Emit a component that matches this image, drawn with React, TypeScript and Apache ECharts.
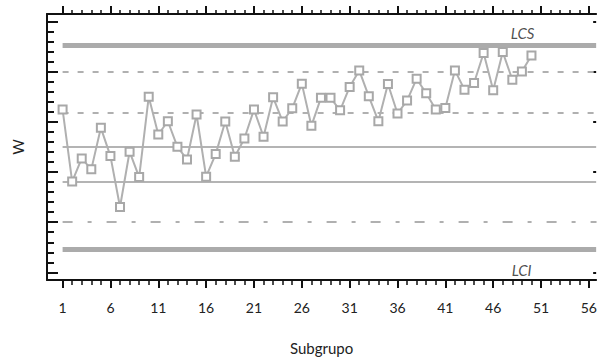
import React, { useEffect, useRef } from "react";
import * as echarts from "echarts";

// ---- data ----
const subgroups = [
  1, 2, 3, 4, 5, 6, 7, 8, 9, 10, 11, 12, 13, 14, 15, 16, 17, 18, 19, 20, 21, 22, 23, 24, 25,
  26, 27, 28, 29, 30, 31, 32, 33, 34, 35, 36, 37, 38, 39, 40, 41, 42, 43, 44, 45, 46, 47, 48, 49, 50,
];
const wValues = [
  16.23, 9.05, 11.36, 10.27, 14.41, 11.59, 6.52, 12.03, 9.5, 17.5,
  13.75, 15.07, 12.52, 11.26, 15.74, 9.54, 11.79, 15.04, 11.53, 13.35,
  16.23, 13.52, 17.46, 15.04, 16.36, 18.82, 14.61, 17.4, 17.4, 16.16,
  18.49, 20.14, 17.55, 15.07, 18.79, 15.84, 17.13, 19.31, 17.85, 16.23,
  16.4, 20.14, 18.22, 18.89, 21.87, 18.15, 21.97, 19.21, 20.04, 21.63,
];
const xTickLabels = [1, 6, 11, 16, 21, 26, 31, 36, 41, 46, 51, 56];
const xMinorTicks = [
  1, 2, 3, 4, 5, 6, 7, 8, 9, 10, 11, 12, 13, 14, 15, 16, 17, 18, 19, 20, 21, 22, 23, 24, 25, 26, 27, 28,
  29, 30, 31, 32, 33, 34, 35, 36, 37, 38, 39, 40, 41, 42, 43, 44, 45, 46, 47, 48, 49, 50, 51, 52, 53, 54, 55, 56,
];
const yMajorTicks = [0, 5, 10, 15, 20, 25];
const yMinorTicks = [
  0, 1, 2, 3, 4, 5, 6, 7, 8, 9, 10, 11, 12, 13, 14, 15, 16, 17, 18, 19, 20, 21, 22, 23, 24, 25,
];
// control limits / zone lines
const LCS = 22.62;
const UPPER_2 = 20.04;
const UPPER_1 = 15.9;
const CENTER = 12.49;
const LOWER_1 = 9.0;
const LOWER_2 = 5.03;
const LCI = 2.32;
const limitLabels = [
  [49.08, 23.89, "LCS"],
  [48.97, 0.23, "LCI"],
];

const X_MIN = -0.63;
const X_MAX = 56.76;
const Y_MIN = -0.765;
const Y_MAX = 25.765;

const FONT = "Lato";
const AXIS_COLOR = "#111";

export default function App() {
  const ref = useRef<HTMLDivElement>(null);

  useEffect(() => {
    if (!ref.current) return;
    const chart = echarts.init(ref.current, null, { renderer: "svg" });

    const xBase = {
      type: "value",
      min: X_MIN,
      max: X_MAX,
      splitLine: { show: false },
    };
    const yBase = {
      type: "value",
      min: Y_MIN,
      max: Y_MAX,
      splitLine: { show: false },
    };

    const hline = (v: number, style: any) => [
      { coord: [1, v], lineStyle: style },
      { coord: [X_MAX, v] },
    ];

    const thick = { color: "#ababab", width: 5, type: "solid" };
    const solid = { color: "#b4b4b4", width: 1.8, type: "solid" };
    const dashed = { color: "#b0b0b0", width: 2, type: [6, 9] };
    const dashDot = { color: "#b0b0b0", width: 2, type: [10, 15, 4, 15] };

    chart.setOption({
      animation: false,
      backgroundColor: "#fff",
      textStyle: { fontFamily: FONT },
      grid: { left: 47, right: 0, top: 14, bottom: 79, containLabel: false },
      xAxis: [
        {
          ...xBase,
          position: "bottom",
          axisLine: { show: true, onZero: false, lineStyle: { color: AXIS_COLOR, width: 2 } },
          axisTick: { show: true, customValues: xMinorTicks, length: 5, inside: false, lineStyle: { color: AXIS_COLOR, width: 1.5 } },
          axisLabel: { show: false },
        },
        {
          ...xBase,
          position: "bottom",
          axisLine: { show: false, onZero: false },
          axisTick: { show: true, customValues: xTickLabels, length: 8, inside: false, lineStyle: { color: AXIS_COLOR, width: 2 } },
          axisLabel: { show: true, customValues: xTickLabels, margin: 20, fontSize: 14, color: "#222", fontFamily: FONT },
          name: "Subgrupo",
          nameLocation: "middle",
          nameGap: 60,
          nameTextStyle: { fontSize: 15, color: "#222", fontFamily: FONT },
        },
        {
          ...xBase,
          position: "top",
          axisLine: { show: true, onZero: false, lineStyle: { color: AXIS_COLOR, width: 2 } },
          axisTick: { show: true, customValues: xMinorTicks, length: 4, inside: false, lineStyle: { color: AXIS_COLOR, width: 1.5 } },
          axisLabel: { show: false },
        },
        {
          ...xBase,
          position: "top",
          axisLine: { show: false, onZero: false },
          axisTick: { show: true, customValues: xTickLabels, length: 8, inside: false, lineStyle: { color: AXIS_COLOR, width: 2 } },
          axisLabel: { show: false },
        },
      ],
      yAxis: [
        {
          ...yBase,
          position: "left",
          axisLine: { show: true, onZero: false, lineStyle: { color: AXIS_COLOR, width: 2 } },
          axisTick: { show: true, customValues: yMinorTicks, length: 7, inside: true, lineStyle: { color: AXIS_COLOR, width: 2 } },
          axisLabel: { show: false },
          name: "W",
          nameLocation: "middle",
          nameGap: 22,
          nameTextStyle: { fontSize: 15, color: "#222", fontFamily: FONT },
        },
        {
          ...yBase,
          position: "left",
          axisLine: { show: false, onZero: false },
          axisTick: { show: true, customValues: yMajorTicks, length: 11, inside: true, lineStyle: { color: AXIS_COLOR, width: 2 } },
          axisLabel: { show: false },
        },
        {
          ...yBase,
          position: "right",
          axisLine: { show: false, onZero: false },
          axisTick: { show: true, customValues: yMajorTicks, length: 3, inside: true, lineStyle: { color: AXIS_COLOR, width: 2 } },
          axisLabel: { show: false },
        },
      ],
      series: [
        {
          type: "line",
          xAxisIndex: 0,
          yAxisIndex: 0,
          data: subgroups.map((s, i) => [s, wValues[i]]),
          symbol: "rect",
          symbolSize: 8,
          showAllSymbol: true,
          lineStyle: { color: "#b0b0b0", width: 2 },
          itemStyle: { color: "#fff", borderColor: "#a8a8a8", borderWidth: 2 },
          z: 5,
          markLine: {
            silent: true,
            symbol: "none",
            label: { show: false },
            z: 2,
            data: [
              hline(LCS, thick),
              hline(UPPER_2, dashed),
              hline(UPPER_1, dashed),
              hline(CENTER, solid),
              hline(LOWER_1, solid),
              hline(LOWER_2, dashDot),
              hline(LCI, thick),
            ],
          },
        },
        {
          type: "scatter",
          xAxisIndex: 0,
          yAxisIndex: 0,
          data: limitLabels,
          symbolSize: 1,
          itemStyle: { color: "rgba(0,0,0,0)" },
          silent: true,
          label: {
            show: true,
            position: "inside",
            formatter: (p: any) => p.value[2],
            fontStyle: "italic",
            fontSize: 15,
            color: "#222",
            fontFamily: FONT,
          },
        },
      ],
    });

    return () => chart.dispose();
  }, []);

  return <div ref={ref} style={{ width: 600, height: 360, position: "absolute", left: 0, top: 0 }} />;
}
